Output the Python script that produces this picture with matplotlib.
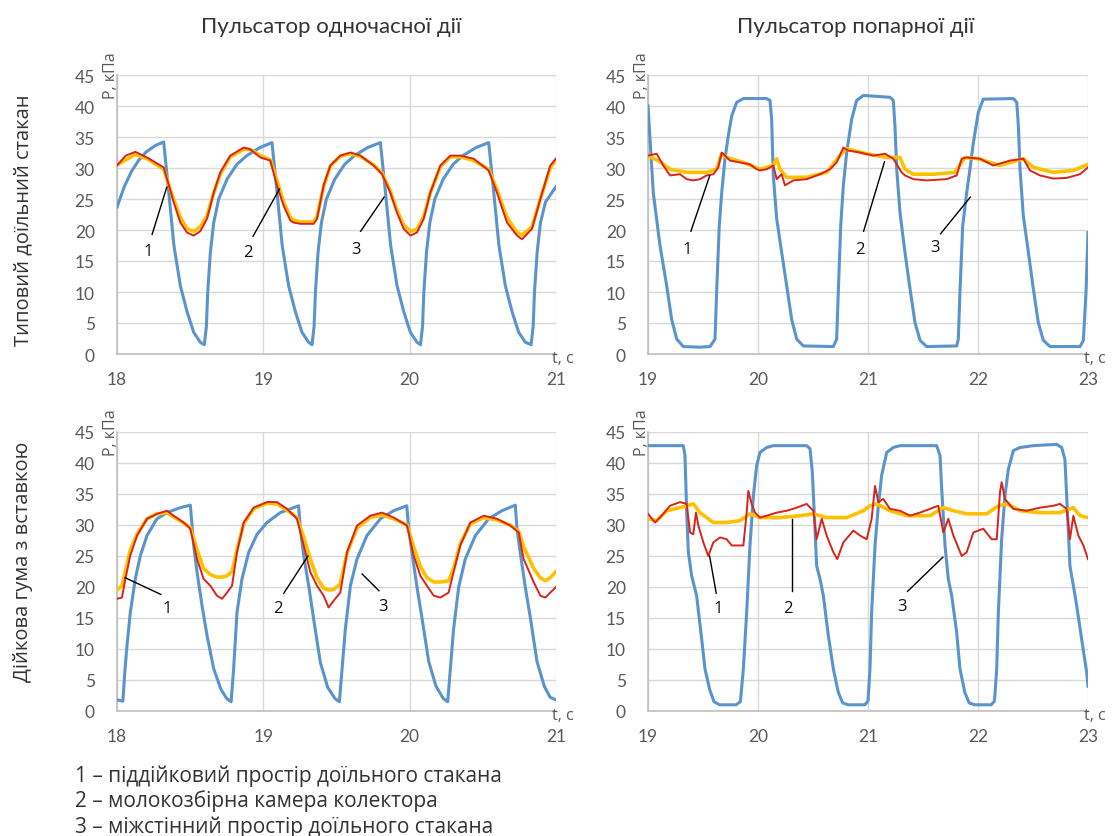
import matplotlib
matplotlib.use("Agg")
import matplotlib.pyplot as plt

W, H = 1115, 837

# ---------------- data ----------------
# Panel A: top-left (typical cup, simultaneous pulsator)
tA_blue = [18.00, 18.05, 18.10, 18.15, 18.20, 18.26, 18.319, 18.349, 18.389, 18.433, 18.479, 18.524, 18.569, 18.597,
           18.611, 18.620, 18.638, 18.661, 18.695, 18.752, 18.820, 18.887, 18.977, 19.059,
           19.089, 19.129, 19.173, 19.219, 19.264, 19.309, 19.333, 19.347, 19.356, 19.374, 19.397, 19.431, 19.488,
           19.556, 19.623, 19.713, 19.80,
           19.83, 19.87, 19.914, 19.96, 20.005, 20.05, 20.074, 20.088, 20.097, 20.115, 20.138, 20.172, 20.229,
           20.297, 20.364, 20.454, 20.54,
           20.57, 20.61, 20.654, 20.70, 20.745, 20.79, 20.83, 20.844, 20.853, 20.871, 20.894, 20.928, 21.0]
pA_blue = [23.7, 27.0, 29.5, 31.3, 32.6, 33.6, 34.2, 27.2, 17.5, 11.0, 6.8, 3.5, 1.9, 1.5,
           4.5, 10.0, 16.4, 21.2, 25.0, 28.2, 30.6, 32.0, 33.3, 34.1,
           27.2, 17.5, 11.0, 6.8, 3.5, 1.9, 1.5, 4.5, 10.0, 16.4, 21.2, 25.0, 28.2,
           30.6, 32.0, 33.3, 34.1,
           27.2, 17.5, 11.0, 6.8, 3.5, 1.9, 1.5, 4.5, 10.0, 16.4, 21.2, 25.0, 28.2,
           30.6, 32.0, 33.3, 34.1,
           27.2, 17.5, 11.0, 6.8, 3.5, 1.9, 1.5, 4.5, 10.0, 16.4, 21.2, 24.5, 27.0]
tA_red = [18.0, 18.06, 18.125, 18.205, 18.319, 18.387, 18.433, 18.478, 18.524, 18.569, 18.615, 18.661, 18.706,
          18.774, 18.866, 18.911, 18.98, 19.048, 19.093, 19.139, 19.185, 19.207, 19.253, 19.344, 19.367, 19.412,
          19.458, 19.526, 19.595, 19.663, 19.754, 19.811, 19.868, 19.913, 19.959, 20.005, 20.05, 20.096, 20.141,
          20.21, 20.278, 20.346, 20.437, 20.54, 20.597, 20.665, 20.734, 20.768, 20.836, 20.893, 20.961, 21.0]
pA_red = [30.4, 32.0, 32.6, 31.7, 30.1, 24.5, 21.2, 19.6, 19.1, 19.8, 21.8, 26.0, 29.3,
          32.0, 33.3, 33.0, 31.7, 31.2, 27.2, 23.9, 21.5, 21.2, 21.0, 21.0, 21.8, 27.2,
          30.4, 32.0, 32.5, 32.0, 30.4, 29.0, 26.0, 22.8, 20.2, 19.1, 19.6, 21.8, 26.0,
          30.4, 32.0, 32.0, 31.5, 29.6, 26.0, 21.2, 19.1, 18.5, 20.2, 25.0, 30.4, 31.5]
tA_yel = [18.0, 18.125, 18.205, 18.319, 18.387, 18.433, 18.478, 18.524, 18.569, 18.615, 18.661, 18.706, 18.774,
          18.866, 18.911, 18.98, 19.048, 19.093, 19.139, 19.185, 19.207, 19.253, 19.344, 19.367, 19.412, 19.458,
          19.526, 19.595, 19.663, 19.754, 19.811, 19.868, 19.913, 19.959, 20.005, 20.05, 20.096, 20.141, 20.21,
          20.278, 20.346, 20.437, 20.54, 20.597, 20.665, 20.734, 20.768, 20.836, 20.893, 20.961, 21.0]
pA_yel = [30.5, 32.2, 31.5, 29.8, 25.0, 22.0, 20.2, 19.8, 20.5, 22.3, 26.0, 29.0, 31.8,
          33.0, 33.0, 32.0, 31.3, 28.0, 24.5, 22.0, 21.6, 21.3, 21.3, 22.2, 27.0, 30.3,
          31.9, 32.3, 31.9, 30.5, 29.2, 26.3, 23.2, 20.8, 19.8, 20.1, 22.2, 26.0, 30.2,
          31.8, 31.8, 31.2, 29.8, 26.5, 22.0, 19.6, 19.2, 20.5, 25.0, 30.0, 31.3]

# Panel B: top-right (typical cup, alternate pulsator)
tB_blue = [19.0, 19.048, 19.109, 19.170, 19.215, 19.261, 19.321, 19.473, 19.564, 19.609, 19.624, 19.648, 19.670,
           19.700, 19.730, 19.761, 19.806, 19.867, 20.079, 20.109, 20.124, 20.139, 20.170, 20.215, 20.261, 20.306,
           20.352, 20.412, 20.685, 20.715, 20.730, 20.752, 20.776, 20.806, 20.852, 20.897, 20.958, 21.2, 21.230,
           21.245, 21.261, 21.291, 21.336, 21.382, 21.427, 21.473, 21.533, 21.806, 21.821, 21.836, 21.861, 21.897,
           21.927, 21.958, 22.003, 22.048, 22.321, 22.352, 22.367, 22.382, 22.412, 22.458, 22.503, 22.548, 22.594,
           22.655, 22.927, 22.958, 22.982, 23.0]
pB_blue = [40.0, 26.0, 17.5, 11.0, 5.6, 2.4, 1.2, 1.1, 1.2, 2.4, 10.0, 20.7, 26.0,
           31.5, 35.2, 38.4, 40.6, 41.2, 41.2, 40.9, 37.9, 28.8, 21.8, 16.4, 11.0, 5.6,
           2.4, 1.3, 1.2, 2.4, 10.0, 20.7, 27.2, 32.5, 37.9, 40.9, 41.7, 41.4, 40.9,
           36.8, 29.8, 22.8, 16.4, 10.5, 5.1, 2.2, 1.2, 1.3, 2.4, 10.0, 20.7, 26.0,
           29.8, 34.1, 39.0, 41.1, 41.2, 40.6, 36.8, 29.8, 22.3, 16.4, 10.5, 5.1, 2.2,
           1.2, 1.2, 2.2, 10.0, 19.6]
tB_red = [19.0, 19.079, 19.139, 19.2, 19.291, 19.352, 19.412, 19.473, 19.533, 19.594, 19.639, 19.67, 19.70,
          19.745, 19.836, 19.927, 19.988, 20.018, 20.079, 20.139, 20.17, 20.215, 20.245, 20.321, 20.442, 20.564,
          20.655, 20.715, 20.776, 20.821, 20.927, 21.048, 21.155, 21.23, 21.306, 21.336, 21.412, 21.533, 21.715,
          21.806, 21.852, 21.897, 22.018, 22.139, 22.291, 22.412, 22.473, 22.564, 22.685, 22.806, 22.927, 23.0]
pB_red = [32.0, 32.3, 30.4, 28.8, 29.0, 28.2, 28.0, 28.2, 28.8, 29.0, 30.1, 32.5, 32.0,
          31.2, 30.9, 30.6, 29.8, 29.6, 29.8, 30.4, 28.2, 29.0, 27.2, 28.0, 28.2, 29.0,
          29.8, 30.9, 33.3, 32.8, 32.5, 32.0, 32.3, 31.5, 29.3, 28.8, 28.2, 28.0, 28.2,
          28.8, 31.5, 31.7, 31.5, 30.4, 31.2, 31.5, 29.6, 28.8, 28.3, 28.4, 29.0, 30.1]
tB_yel = [19.0, 19.109, 19.2, 19.352, 19.533, 19.624, 19.67, 19.715, 19.867, 20.018, 20.139, 20.17, 20.2, 20.261,
          20.442, 20.624, 20.745, 20.806, 20.988, 21.17, 21.291, 21.336, 21.412, 21.6, 21.79, 21.88, 22.0, 22.2,
          22.412, 22.503, 22.685, 22.867, 23.0]
pB_yel = [32.0, 31.0, 29.8, 29.3, 29.3, 29.8, 32.3, 31.7, 30.9, 29.8, 30.4, 31.5, 29.8, 28.5,
          28.5, 29.3, 32.0, 33.1, 32.3, 31.7, 31.7, 29.8, 29.0, 29.0, 29.3, 31.7, 31.5, 30.4,
          31.5, 30.1, 29.3, 29.6, 30.6]

# Panel C: bottom-left (liner with insert, simultaneous pulsator)
tC_blue = [18.00, 18.04, 18.055, 18.068, 18.091, 18.125, 18.159, 18.205, 18.273, 18.342, 18.433, 18.501,
           18.513, 18.524, 18.547, 18.581, 18.615, 18.661, 18.71, 18.75, 18.78,
           18.797, 18.82, 18.854, 18.90, 18.957, 19.025, 19.116, 19.207, 19.241,
           19.253, 19.276, 19.31, 19.344, 19.39, 19.44, 19.49, 19.52,
           19.538, 19.56, 19.595, 19.64, 19.708, 19.80, 19.89, 19.98,
           19.993, 20.016, 20.05, 20.084, 20.13, 20.18, 20.23, 20.26,
           20.278, 20.30, 20.335, 20.38, 20.449, 20.54, 20.63, 20.722,
           20.733, 20.756, 20.79, 20.825, 20.87, 20.92, 20.96, 21.0]
pC_blue = [1.8, 1.6, 6.8, 10.5, 15.9, 21.3, 25.0, 28.3, 31.0, 32.0, 32.8, 33.2,
           29.9, 26.7, 22.4, 17.0, 12.2, 6.8, 3.5, 2.0, 1.5,
           6.8, 15.9, 21.3, 25.6, 28.5, 30.4, 32.0, 32.8, 33.1,
           29.4, 25.0, 20.2, 14.8, 7.8, 3.8, 2.0, 1.5,
           6.8, 13.1, 20.2, 24.5, 28.3, 31.0, 32.3, 33.1,
           29.5, 25.5, 20.0, 15.0, 8.0, 4.0, 2.0, 1.5,
           6.8, 13.2, 20.0, 24.5, 28.3, 31.0, 32.3, 33.2,
           29.5, 25.5, 20.0, 15.0, 8.0, 4.0, 2.2, 1.8]
tC_red = [18.0, 18.034, 18.057, 18.091, 18.137, 18.205, 18.273, 18.342, 18.387, 18.456, 18.501, 18.547, 18.592,
          18.638, 18.683, 18.718, 18.752, 18.786, 18.82, 18.866, 18.934, 19.025, 19.093, 19.162, 19.23, 19.276,
          19.321, 19.367, 19.412, 19.446, 19.481, 19.526, 19.572, 19.64, 19.731, 19.811, 19.891, 19.982, 20.027,
          20.073, 20.118, 20.164, 20.21, 20.266, 20.30, 20.346, 20.415, 20.506, 20.597, 20.688, 20.745, 20.779,
          20.847, 20.893, 20.927, 20.961, 21.0]
pC_red = [18.1, 18.3, 21.3, 25.1, 28.3, 31.0, 31.8, 32.3, 31.5, 30.4, 29.4, 24.5, 21.3,
          20.2, 18.6, 18.1, 19.1, 20.2, 25.6, 30.4, 32.8, 33.7, 33.7, 32.6, 31.0, 26.7,
          22.4, 20.2, 18.6, 16.7, 17.8, 19.1, 25.6, 29.9, 31.5, 32.0, 31.2, 29.9, 25.1,
          21.8, 20.2, 18.6, 18.3, 19.1, 22.4, 26.7, 30.4, 31.5, 31.0, 29.9, 28.8, 24.5,
          20.8, 18.6, 18.3, 19.1, 20.0]
tC_yel = [18.0, 18.034, 18.057, 18.091, 18.137, 18.205, 18.273, 18.342, 18.387, 18.456, 18.501, 18.547, 18.592,
          18.638, 18.683, 18.718, 18.752, 18.786, 18.82, 18.866, 18.934, 19.025, 19.093, 19.162, 19.23, 19.276,
          19.321, 19.367, 19.412, 19.446, 19.481, 19.526, 19.572, 19.64, 19.731, 19.811, 19.891, 19.982, 20.027,
          20.073, 20.118, 20.164, 20.21, 20.266, 20.30, 20.346, 20.415, 20.506, 20.597, 20.688, 20.745, 20.779,
          20.847, 20.893, 20.927, 20.961, 21.0]
pC_yel = [19.5, 20.2, 22.5, 26.0, 28.5, 31.0, 31.8, 32.0, 31.3, 30.3, 29.6, 26.0, 23.0,
          22.0, 21.6, 21.6, 21.8, 22.5, 26.0, 30.2, 32.6, 33.5, 33.4, 32.4, 31.2, 28.0,
          24.5, 21.5, 19.8, 19.5, 19.6, 20.5, 25.5, 29.5, 31.2, 31.6, 31.0, 30.0, 26.5,
          23.3, 21.5, 20.8, 20.8, 21.0, 23.0, 27.0, 30.2, 31.2, 30.8, 30.0, 29.0, 26.5,
          23.0, 21.5, 21.0, 21.5, 22.5]

# Panel D: bottom-right (liner with insert, alternate pulsator)
tD_blue = [19.0, 19.321, 19.336, 19.352, 19.367, 19.397, 19.442, 19.488, 19.518, 19.56, 19.6, 19.65, 19.8, 19.84,
           19.867, 19.897, 19.927, 19.958, 19.988, 20.018, 20.079, 20.139, 20.442, 20.473, 20.494, 20.518, 20.533,
           20.564, 20.594, 20.639, 20.685, 20.73, 20.77, 20.82, 20.97, 21.0,
           21.018, 21.033, 21.064, 21.094, 21.124, 21.170, 21.230, 21.291, 21.624, 21.655, 21.67, 21.70, 21.73,
           21.761, 21.806, 21.836, 21.88, 21.92, 21.97, 22.12, 22.15,
           22.17, 22.185, 22.215, 22.245, 22.276, 22.321, 22.382, 22.503, 22.715, 22.761, 22.79, 22.806, 22.836,
           22.867, 22.897, 22.942, 22.988, 23.0]
pD_blue = [42.8, 42.8, 41.2, 32.0, 25.6, 21.8, 18.6, 11.6, 6.8, 3.5, 1.5, 1.0, 1.0, 1.5,
           6.8, 15.9, 26.7, 34.7, 39.6, 41.7, 42.5, 42.8, 42.8, 42.3, 38.5, 29.4, 23.4,
           21.3, 18.6, 12.2, 6.8, 3.0, 1.3, 1.0, 1.0, 1.6,
           6.8, 15.9, 26.7, 33.1, 38.0, 41.7, 42.5, 42.8, 42.8, 41.2, 35.8, 26.7, 21.3,
           18.6, 12.7, 6.8, 3.0, 1.3, 1.0, 1.0, 1.6,
           6.8, 15.9, 27.7, 34.7, 39.0, 42.0, 42.5, 42.8, 43.0, 42.5, 40.6, 34.7, 23.4,
           20.2, 17.0, 11.6, 6.2, 4.0]
tD_red = [19.0, 19.064, 19.124, 19.2, 19.291, 19.352, 19.382, 19.412, 19.436, 19.458, 19.503, 19.548, 19.594,
          19.655, 19.715, 19.761, 19.867, 19.897, 19.912, 19.942, 19.973, 20.018, 20.079, 20.17, 20.261, 20.352,
          20.442, 20.503, 20.533, 20.579, 20.624, 20.685, 20.721, 20.776, 20.867, 20.927, 20.988, 21.033, 21.064,
          21.094, 21.139, 21.2, 21.291, 21.382, 21.473, 21.564, 21.639, 21.685, 21.73, 21.776, 21.852, 21.897,
          21.958, 22.048, 22.124, 22.17, 22.2, 22.215, 22.245, 22.321, 22.442, 22.564, 22.685, 22.745, 22.806,
          22.836, 22.867, 22.912, 22.958, 23.0]
pD_red = [31.8, 30.4, 31.5, 33.1, 33.7, 33.4, 28.8, 28.5, 32.0, 29.9, 27.2, 25.0, 27.2,
          28.0, 27.7, 26.7, 26.7, 32.0, 35.5, 33.4, 32.0, 31.2, 31.5, 32.0, 32.3, 32.8,
          33.4, 32.3, 27.7, 31.0, 28.3, 25.6, 24.5, 27.2, 29.1, 28.3, 27.7, 31.0, 36.3,
          33.7, 34.2, 32.6, 32.3, 31.5, 32.0, 32.6, 33.1, 28.8, 31.0, 28.3, 25.0, 25.6,
          28.8, 29.4, 27.7, 27.7, 35.3, 36.9, 34.2, 32.6, 32.3, 32.8, 33.1, 33.4, 32.6,
          27.7, 31.5, 28.3, 26.7, 24.5]
tD_yel = [19.0, 19.079, 19.17, 19.291, 19.412, 19.473, 19.594, 19.715, 19.836, 19.927, 20.018, 20.2, 20.382,
          20.503, 20.624, 20.806, 20.958, 21.018, 21.079, 21.2, 21.352, 21.564, 21.685, 21.776, 21.897, 22.079,
          22.185, 22.261, 22.382, 22.564, 22.745, 22.867, 22.927, 23.0]
pD_yel = [31.0, 30.7, 32.3, 32.8, 33.4, 32.0, 30.4, 30.4, 30.7, 31.8, 31.2, 31.2, 31.5,
          31.8, 31.2, 31.2, 32.3, 33.1, 33.4, 32.3, 31.5, 31.5, 32.8, 32.3, 31.8, 31.8,
          33.1, 33.4, 32.3, 32.0, 32.0, 32.8, 31.5, 31.2]

col_titles = ["Пульсатор одночасної дії", "Пульсатор попарної дії"]
row_titles = ["Типовий доїльний стакан", "Дійкова гума з вставкою"]
legend_lines = ["1 – піддійковий простір доїльного стакана",
                "2 – молокозбірна камера колектора",
                "3 – міжстінний простір доїльного стакана"]
yticks = [0, 5, 10, 15, 20, 25, 30, 35, 40, 45]
xticks_left = [18, 19, 20, 21]
xticks_right = [19, 20, 21, 22, 23]

# callout labels: (label, text x, text y, line start x, line start y, line end x, line end y)
callouts_A = [("1", 18.21, 16.6, 18.24, 19.3, 18.34, 26.9),
              ("2", 18.895, 16.4, 18.93, 19.0, 19.11, 26.6),
              ("3", 19.63, 17.0, 19.665, 19.8, 19.825, 25.3)]
callouts_B = [("1", 19.355, 17.0, 19.39, 19.8, 19.56, 28.7),
              ("2", 20.93, 17.0, 20.96, 19.8, 21.15, 31.0),
              ("3", 21.61, 17.2, 21.66, 19.4, 21.93, 25.3)]
callouts_C = [("1", 18.34, 16.6, 18.30, 18.8, 18.055, 21.5),
              ("2", 19.10, 16.6, 19.14, 19.0, 19.305, 25.0),
              ("3", 19.82, 17.0, 19.79, 19.4, 19.675, 22.1)]
callouts_D = [("1", 19.636, 16.6, 19.62, 19.0, 19.56, 25.0),
              ("2", 20.27, 16.6, 20.31, 19.3, 20.31, 31.0),
              ("3", 21.31, 17.0, 21.36, 19.3, 21.68, 24.8)]

# ---------------- styling ----------------
BLUE = "#5B93CC"
YEL = "#FFC000"
RED = "#D8241A"
GRID = "#D9D9D9"
TICKC = "#595959"

fig = plt.figure(figsize=(W / 100, H / 100), dpi=100)
fig.patch.set_facecolor("white")


def px_rect(x0, y0, x1, y1):
    return [x0 / W, 1 - y1 / H, (x1 - x0) / W, (y1 - y0) / H]


panels = [
    (px_rect(117, 76, 556, 355), (18, 21), xticks_left, tA_blue, pA_blue, tA_yel, pA_yel, tA_red, pA_red, callouts_A),
    (px_rect(648, 76, 1088, 355), (19, 23), xticks_right, tB_blue, pB_blue, tB_yel, pB_yel, tB_red, pB_red, callouts_B),
    (px_rect(117, 433, 556, 712), (18, 21), xticks_left, tC_blue, pC_blue, tC_yel, pC_yel, tC_red, pC_red, callouts_C),
    (px_rect(648, 433, 1088, 712), (19, 23), xticks_right, tD_blue, pD_blue, tD_yel, pD_yel, tD_red, pD_red, callouts_D),
]

for rect, xl, xt, tb, pb, ty, py, tr, pr, calls in panels:
    ax = fig.add_axes(rect)
    ax.set_xlim(*xl)
    ax.set_ylim(0, 45)
    ax.set_xticks(xt)
    ax.set_yticks(yticks)
    ax.grid(True, color=GRID, lw=1.0)
    ax.set_axisbelow(True)
    for s in ["top", "right"]:
        ax.spines[s].set_visible(False)
    for s in ["left", "bottom"]:
        ax.spines[s].set_color("#BFBFBF")
        ax.spines[s].set_linewidth(1.2)
    ax.tick_params(axis="both", length=0, colors=TICKC, labelsize=12.5)
    ax.tick_params(axis="y", pad=16)
    ax.tick_params(axis="x", pad=12)
    for lab in ax.get_xticklabels() + ax.get_yticklabels():
        lab.set_fontfamily("Lato")

    ax.plot(tb, pb, color=BLUE, lw=2.2, solid_joinstyle="round", zorder=3)
    ax.plot(ty, py, color=YEL, lw=2.6, solid_joinstyle="round", zorder=4)
    ax.plot(tr, pr, color=RED, lw=1.4, solid_joinstyle="round", zorder=5)

    for lab, tx, tyy, x0, y0, x1, y1 in calls:
        ax.plot([x0, x1], [y0, y1], color="black", lw=1.0, zorder=6)
        ax.text(tx, tyy, lab, ha="center", va="center", fontsize=12, family="Open Sans", color="#111111", zorder=7)

    # axis labels
    ax.text(-0.014, 1.0, "Р, кПа", transform=ax.transAxes, rotation=90, ha="center", va="center",
            fontsize=11.5, family="Open Sans", color=TICKC)
    ax.text(0.99, -0.016, "t, с", transform=ax.transAxes, ha="left", va="center",
            fontsize=11.5, family="Open Sans", color=TICKC)

# column titles
fig.text(331 / W, 1 - 27 / H, col_titles[0], ha="center", va="center", fontsize=16, family="Lato", color="#333333")
fig.text(856 / W, 1 - 27 / H, col_titles[1], ha="center", va="center", fontsize=16, family="Lato", color="#333333")
# row titles
fig.text(23 / W, 1 - 220 / H, row_titles[0], ha="center", va="center", rotation=90, fontsize=14.5,
         family="Open Sans", color="#333333")
fig.text(23 / W, 1 - 562 / H, row_titles[1], ha="center", va="center", rotation=90, fontsize=14.5,
         family="Open Sans", color="#333333")
# legend
for i, line in enumerate(legend_lines):
    fig.text(75 / W, 1 - (776 + 25.5 * i) / H, line, ha="left", va="center", fontsize=15,
             family="Open Sans", color="#333333")

fig.savefig("out.png", dpi=100, facecolor="white")
